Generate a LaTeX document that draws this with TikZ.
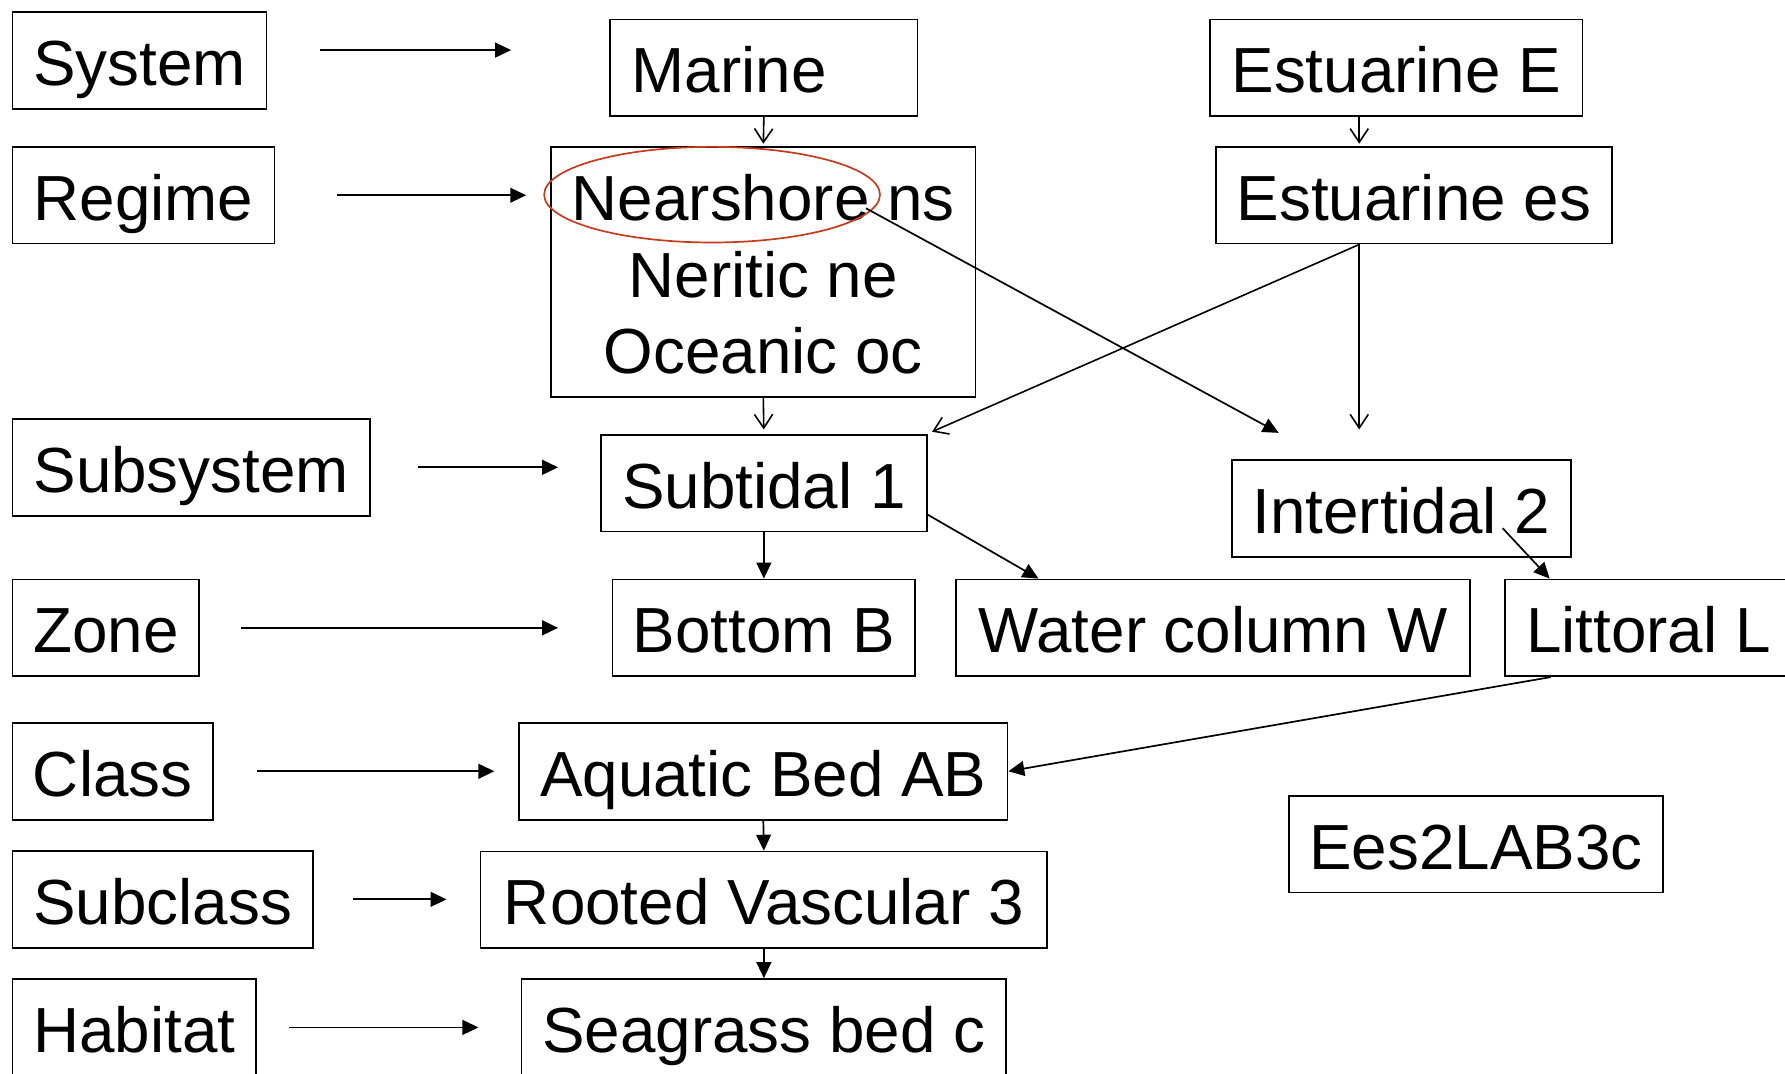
\documentclass[tikz,border=0pt]{standalone}
\usepackage{fontspec}
\setmainfont{Liberation Sans}
\usetikzlibrary{arrows.meta,calc,shapes.geometric}
\definecolor{ellred}{RGB}{200,60,30}
\begin{document}
\begin{tikzpicture}[x=1pt,y=-1pt,
  box/.style={draw,line width=1.5pt,minimum height=85pt,inner sep=0pt,
    text height=48pt,text depth=4pt,font=\fontsize{56}{67}\selectfont},
  txt/.style={inner sep=0pt,anchor=base,font=\fontsize{56}{67}\selectfont},
  farr/.style={line width=1.5pt,-{Triangle[length=14pt,width=13pt]}},
  oarr/.style={line width=1.4pt,-{Straight Barb[length=12pt,width=16pt,line width=1.4pt]}}]
\useasboundingbox (0,0) rectangle (1568,943);
\clip (0,0) rectangle (1568,943);
% left column
\node[box,minimum width=223pt] (sys) at (122.5,53) {System};
\node[box,minimum width=230pt] (reg) at (126,171.5) {Regime};
\node[box,minimum width=314pt] (subsys) at (168,410.5) {Subsystem};
\node[box,minimum width=164pt] (zone) at (93,551.5) {Zone};
\node[box,minimum width=176pt] (cls) at (99,677.5) {Class};
\node[box,minimum width=264pt] (subcls) at (143,790) {Subclass};
\node[box,minimum width=214pt] (hab) at (118,902.5) {Habitat};
% middle column
\node[box,minimum width=270pt,text width=232pt,inner xsep=19pt,align=left] (marine) at (671,59.5) {Marine};
\node[draw,line width=1.5pt,minimum width=373pt,minimum height=220pt,inner sep=0pt] (nsbox) at (670.5,239) {};
\node[txt] (ns1) at (670.5,194) {Nearshore ns};
\node[txt] (ns2) at (670.5,261) {Neritic ne};
\node[txt] (ns3) at (670.5,328) {Oceanic oc};
\node[draw=ellred,line width=1.5pt,ellipse,minimum width=295pt,minimum height=84pt,inner sep=0pt] (ell) at (625.5,171) {};
\node[box,minimum width=286pt] (subt) at (671,424.5) {Subtidal 1};
\node[box,minimum width=266pt] (bot) at (671,551.5) {Bottom B};
\node[box,minimum width=451pt] (water) at (1065.5,551.5) {Water column W};
\node[box,minimum width=252pt] (litt) at (1448,551.5) {Littoral L};
\node[box,minimum width=429pt] (aq) at (670.5,677.5) {Aquatic Bed AB};
\node[box,minimum width=498pt] (root) at (671,790.5) {Rooted Vascular 3};
\node[box,minimum width=426pt] (sea) at (671,902.5) {Seagrass bed c};
\node[box,minimum width=329pt] (ees) at (1296.5,741.5) {Ees2LAB3c};
% right column
\node[box,minimum width=327pt] (estE) at (1226.5,59.5) {Estuarine E};
\node[box,minimum width=348pt] (estes) at (1242,171.5) {Estuarine es};
\node[box,minimum width=298pt] (inter) at (1231,446.5) {Intertidal 2};
% free ends
\coordinate (sysA) at (281,44);
\coordinate (sysB) at (449,44);
\coordinate (iA) at ([shift={(42pt,23pt)}]inter.north west);
\coordinate (iB) at ([shift={(-37pt,26pt)}]inter.north);
% left arrows
\draw[farr] (sysA) -- (sysB);
\draw[farr,shorten <=54pt,shorten >=21pt] (reg.east) -- (reg.east -| nsbox.west);
\draw[farr,shorten <=41pt,shorten >=37pt] (subsys.east) -- (subsys.east -| subt.west);
\draw[farr,shorten <=36pt,shorten >=47pt] (zone.east) -- (zone.east -| bot.west);
\draw[farr,shorten <=38pt,shorten >=21pt] (cls.east) -- (cls.east -| aq.west);
\draw[farr,shorten <=34pt,shorten >=29pt] (subcls.east) -- (subcls.east -| root.west);
\draw[farr,shorten <=28pt,shorten >=37pt] (hab.east) -- (hab.east -| sea.west);
% open arrows
\draw[oarr,shorten >=2pt] (marine.south) -- (nsbox.north);
\draw[oarr,shorten >=4pt] (nsbox.south) -- (subt.north);
\draw[oarr,shorten >=2pt] ([xshift=-32.5pt]estE.south) -- ([xshift=-32.5pt]estE.south |- estes.north);
\draw[oarr] ([xshift=-48pt]estes.south) -- ([shift={(4pt,2pt)}]subt.north east);
\draw[oarr] ([xshift=-48pt]estes.south) -- (iB);
% filled arrows
\draw[farr] ([shift={(-13pt,-12pt)}]ell.east) -- (iA);
\draw[farr] (subt.south) -- (bot.north);
\draw[farr] ([yshift=-27.5pt]subt.east) -- ([xshift=73pt]water.north west);
\draw[farr] ([shift={(89pt,-17.5pt)}]inter.center) -- ([xshift=40pt]litt.north west);
\draw[farr] ([xshift=41pt]litt.south west) -- (aq.east);
\draw[farr] (aq.south) -- (root.north);
\draw[farr] (root.south) -- (sea.north);
\end{tikzpicture}
\end{document}
